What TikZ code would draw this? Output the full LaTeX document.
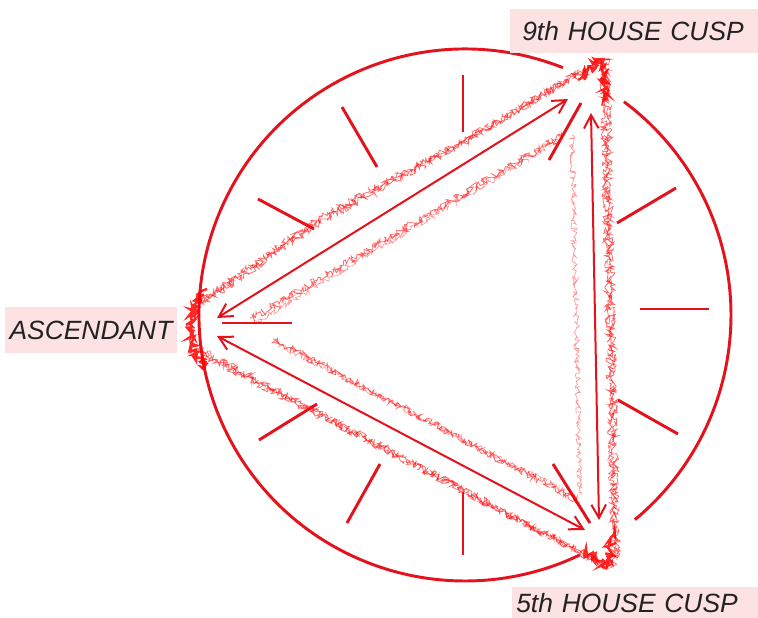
\documentclass[tikz,border=0pt]{standalone}
\usepackage{fontspec}
\setmainfont{Liberation Sans}
\usetikzlibrary{arrows.meta,decorations.pathmorphing,calc}
\definecolor{cred}{RGB}{228,18,28}
\definecolor{lblbg}{RGB}{252,226,226}
\definecolor{lbltxt}{RGB}{34,34,34}
\begin{document}
\begin{tikzpicture}[x=0.75pt,y=0.75pt,
  lbl/.style={fill=lblbg, text=lbltxt, font=\fontsize{19.8}{24}\selectfont\itshape, inner ysep=2pt, align=left},
  ring/.style={draw=cred, line width=2.2pt},
  tick/.style={draw=cred, line width=2.2pt},
  link/.style={draw=cred, line width=1.5pt, {Straight Barb[length=10pt,width=11pt,line width=1.5pt]}-{Straight Barb[length=10pt,width=11pt,line width=1.5pt]}},
  fuzz/.style={draw=red, line width=0.55pt, opacity=0.6, decorate, decoration={random steps, segment length=0.9pt, amplitude=2.8pt}},
  fuzzlight/.style={draw=red, line width=0.5pt, opacity=0.4, decorate, decoration={random steps, segment length=1.1pt, amplitude=2.2pt}},
  fuzzheavy/.style={draw=red, line width=1.8pt, opacity=0.85, decorate, decoration={random steps, segment length=1pt, amplitude=3.5pt}}
]
\pgfmathsetseed{7}
\useasboundingbox (0,0) rectangle (758,-618);

% circle (with gaps near the two cusps)
\coordinate (C) at (465,-315);
\draw[ring] ($(C)+(53.3:266)$) arc[start angle=53.3, end angle=-50.3, radius=266];
\draw[ring] ($(C)+(68.4:266)$) arc[start angle=68.4, end angle=295.6, radius=266];

% twelve house ticks
\draw[tick] (463,-75) -- (463,-132);
\draw[tick] (342,-107) -- (377,-167);
\draw[tick] (258,-199) -- (314,-229);
\draw[tick] (222,-323) -- (292,-323);
\draw[tick] (259,-440) -- (317,-404);
\draw[tick] (347,-523) -- (380,-464);
\draw[tick] (463,-492) -- (463,-555);
\draw[tick] (553,-464) -- (590,-523);
\draw[tick] (618,-400) -- (678,-434);
\draw[tick] (640,-309) -- (709,-309);
\draw[tick] (617,-223) -- (676,-188);
\draw[tick] (549,-160) -- (581,-103);

% fuzzy outer triangle
\path[fuzz] (196,-308) -- (320,-222) -- (463,-143) -- (597,-62);
\path[fuzz] (200,-302) -- (322,-217) -- (465,-140) -- (592,-66);
\path[fuzz] (197,-348) -- (607,-567);
\path[fuzz] (200,-353) -- (600,-562);
\path[fuzz] (603,-58) -- (614,-565);
\path[fuzz] (607,-60) -- (617,-560);
\path[fuzzheavy] (204,-290) -- (193,-310) -- (190,-330) -- (194,-350) -- (206,-368);
\path[fuzzheavy] (578,-80) -- (600,-60) -- (607,-100);
\path[fuzzheavy] (585,-552) -- (607,-566) -- (614,-535);
% fuzzy inner triangle
\path[fuzz] (251,-319) -- (565,-134);
\path[fuzz] (273,-339) -- (580,-502);
\path[fuzzlight] (572,-135) -- (580,-495);
\path[fuzzlight] (254,-323) -- (562,-138);
\path[fuzzlight] (276,-343) -- (577,-498);

% arrows between the cusps
\coordinate (a1s) at (217,-318);
\coordinate (a1e) at (568,-99);
\coordinate (a2s) at (217,-336);
\coordinate (a2e) at (585,-530);
\coordinate (a3s) at (591,-113);
\coordinate (a3e) at (599,-520);
\draw[link] (a1s) -- (a1e);
\draw[link] (a2s) -- (a2e);
\draw[link] (a3s) -- (a3e);

% labels
\node[lbl, anchor=north west, minimum height=33pt, inner xsep=9pt, text width=168pt] (ninth) at (510,-9) {9th HOUSE CUSP};
\node[lbl, anchor=center, minimum height=34.5pt, inner xsep=3.5pt] (asc) at (91,-330) {ASCENDANT};
\node[lbl, anchor=north west, minimum height=23.25pt, inner xsep=3pt, text width=178.5pt] (fifth) at (512,-587) {5th HOUSE CUSP};
\end{tikzpicture}
\end{document}
